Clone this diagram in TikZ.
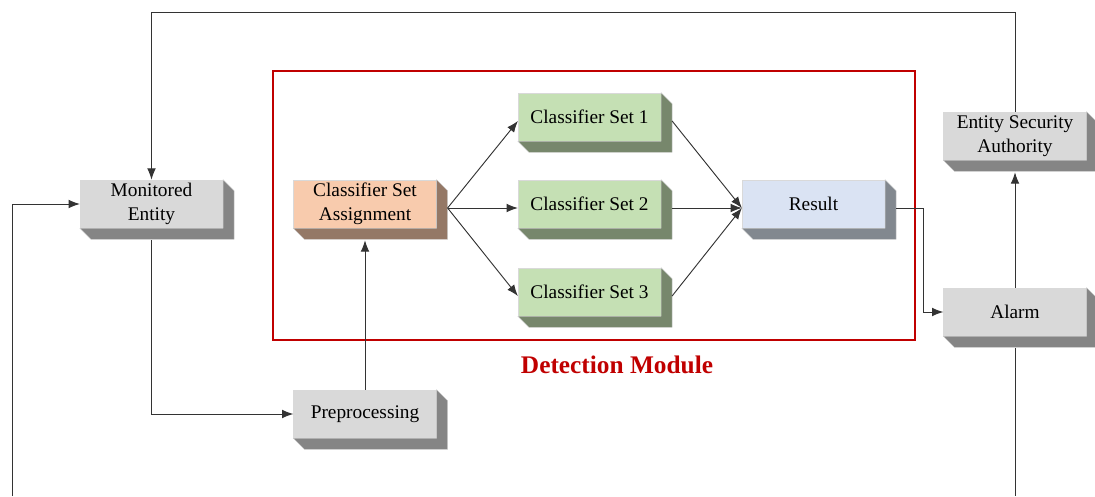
\documentclass[tikz,border=0pt]{standalone}
\usepackage{fontspec}
\setmainfont{Liberation Serif}
\usetikzlibrary{arrows.meta, calc}
\definecolor{faceGray}{HTML}{D9D9D9}
\definecolor{sideGray}{HTML}{858585}
\definecolor{faceOrange}{HTML}{F8CBAD}
\definecolor{sideOrange}{HTML}{947866}
\definecolor{faceGreen}{HTML}{C5E0B4}
\definecolor{sideGreen}{HTML}{77876C}
\definecolor{faceBlue}{HTML}{DAE3F3}
\definecolor{sideBlue}{HTML}{82888F}
\definecolor{modRed}{HTML}{C00000}
\begin{document}
\begin{tikzpicture}[x=0.75pt, y=-0.75pt,
  block/.style={fill=#1, draw=black!15, line width=0.4pt, minimum width=107pt,
    minimum height=36pt, inner sep=1pt, align=center, font=\fontsize{14.5}{18}\selectfont},
  link/.style={draw=black!80, line width=0.7pt},
  arr/.style={link, -{Latex[length=8.5pt,width=6.5pt]}}]
\useasboundingbox (0,0) rectangle (1095,496);

% boxes
\node[block=faceGray] (mon) at (151.5,204) {Monitored\\Entity};
\node[block=faceOrange] (asg) at (365,204) {Classifier Set\\Assignment};
\node[block=faceGreen] (cs1) at (589.5,117) {Classifier Set 1};
\node[block=faceGreen] (cs2) at (589.5,204) {Classifier Set 2};
\node[block=faceGreen] (cs3) at (589.5,292) {Classifier Set 3};
\node[block=faceBlue] (res) at (813.5,204) {Result};
\node[block=faceGray] (esa) at (1015,136) {Entity Security\\Authority};
\node[block=faceGray] (alarm) at (1015,312) {Alarm};
\node[block=faceGray] (pre) at (365,414) {Preprocessing};

% 3d sides of the boxes
\foreach \n/\c in {mon/sideGray, asg/sideOrange, cs1/sideGreen, cs2/sideGreen,
    cs3/sideGreen, res/sideBlue, esa/sideGray, alarm/sideGray, pre/sideGray}
  \filldraw[fill=\c, draw=black!20, line width=0.3pt] (\n.north east) -- ++(11,11)
    -- ($(\n.south east)+(11,11)$) -- ($(\n.south west)+(11,11)$)
    -- (\n.south west) -- (\n.south east) -- cycle;

% detection module frame
\draw[modRed, line width=2.2pt] (273,71) rectangle (915,340);
\node[text=modRed, font=\bfseries\fontsize{19}{22}\selectfont] (det) at (617,365) {Detection Module};

% loop ends
\coordinate (top) at (0,12);
\coordinate (botL) at (12,496);
\coordinate (botR) at (0,496);

% connectors
\draw[arr] (esa.north) -- (esa.north |- top) -- (mon.north |- top) -- (mon.north);
\draw[arr] (botL) |- (mon.west);
\draw[arr] ($(mon.south)+(0,12)$) |- (pre.west);
\draw[arr] (pre.north) -- ($(asg.south)+(0,12)$);
\foreach \k in {1,2,3} {
  \draw[arr] ($(asg.east)+(11,4)$) -- ($(cs\k.west)+(0,4)$);
  \draw[arr] ($(cs\k.east)+(11,4)$) -- ($(res.west)+(0,4)$);
}
\draw[arr] ($(res.east)+(11,4)$) -- ++(27,0) |- (alarm.west);
\draw[arr] (alarm.north) -- ($(esa.south)+(0,12)$);
\draw[link] ($(alarm.south)+(0,12)$) -- (alarm.south |- botR);
\end{tikzpicture}
\end{document}
